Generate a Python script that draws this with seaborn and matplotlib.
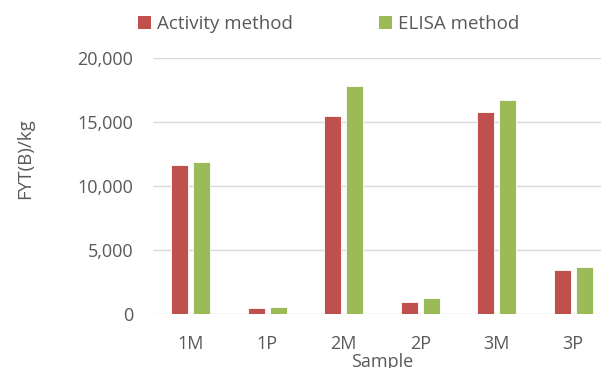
import matplotlib
matplotlib.use("Agg")
import matplotlib.pyplot as plt
from matplotlib.patches import Patch
import seaborn as sns
import pandas as pd

samples = ["1M", "1P", "2M", "2P", "3M", "3P"]
activity = [11660, 520, 15490, 960, 15780, 3460]
elisa = [11900, 570, 17840, 1250, 16720, 3720]
methods = ["Activity method", "ELISA method"]
colors = ["#C0504D", "#9BBB59"]

df = pd.DataFrame({
    "Sample": samples * 2,
    "value": activity + elisa,
    "method": [methods[0]] * len(samples) + [methods[1]] * len(samples),
})

sns.set_theme(style="white")
plt.rcParams["font.family"] = ["Open Sans", "DejaVu Sans"]
text_color = "#595959"

fig = plt.figure(figsize=(6.01, 3.68), dpi=100)
W, H = 601, 368
ax = fig.add_axes([152.5 / W, (H - 314.3) / H, 458.8 / W, 256.0 / H])

sns.barplot(data=df, x="Sample", y="value", hue="method", order=samples,
            hue_order=methods, palette=colors, width=0.575, gap=0.228,
            saturation=1, edgecolor="white", linewidth=0.6, ax=ax,
            legend=False, errorbar=None)

ax.set_ylim(0, 20000)
ax.set_xlim(-0.5, len(samples) - 0.5)
ax.set_yticks([0, 5000, 10000, 15000, 20000])
ax.set_yticklabels([f"{v:,}" for v in [0, 5000, 10000, 15000, 20000]])
ax.yaxis.grid(True, color="#D9D9D9", linewidth=1.0)
ax.set_axisbelow(True)
for s in ax.spines.values():
    s.set_visible(False)
ax.tick_params(axis="both", length=0, labelsize=13, colors=text_color)
ax.tick_params(axis="y", pad=14)
ax.tick_params(axis="x", pad=15)

ax.set_ylabel("FYT(B)/kg", fontsize=13.5, color=text_color)
ax.yaxis.set_label_coords(-0.257, (314.3 - 159) / 256.0)
ax.set_xlabel("Sample", fontsize=13, color=text_color, labelpad=0)

handles = [Patch(facecolor=c, edgecolor="none") for c in colors]
fig.legend(handles, methods, loc="center left", bbox_to_anchor=(121 / W, 1 - 24 / H),
           ncol=2, frameon=False, fontsize=13.5, handlelength=0.7, handleheight=0.7,
           handletextpad=0.3, columnspacing=4.6, labelcolor=text_color)

fig.savefig("out.png", dpi=100)
